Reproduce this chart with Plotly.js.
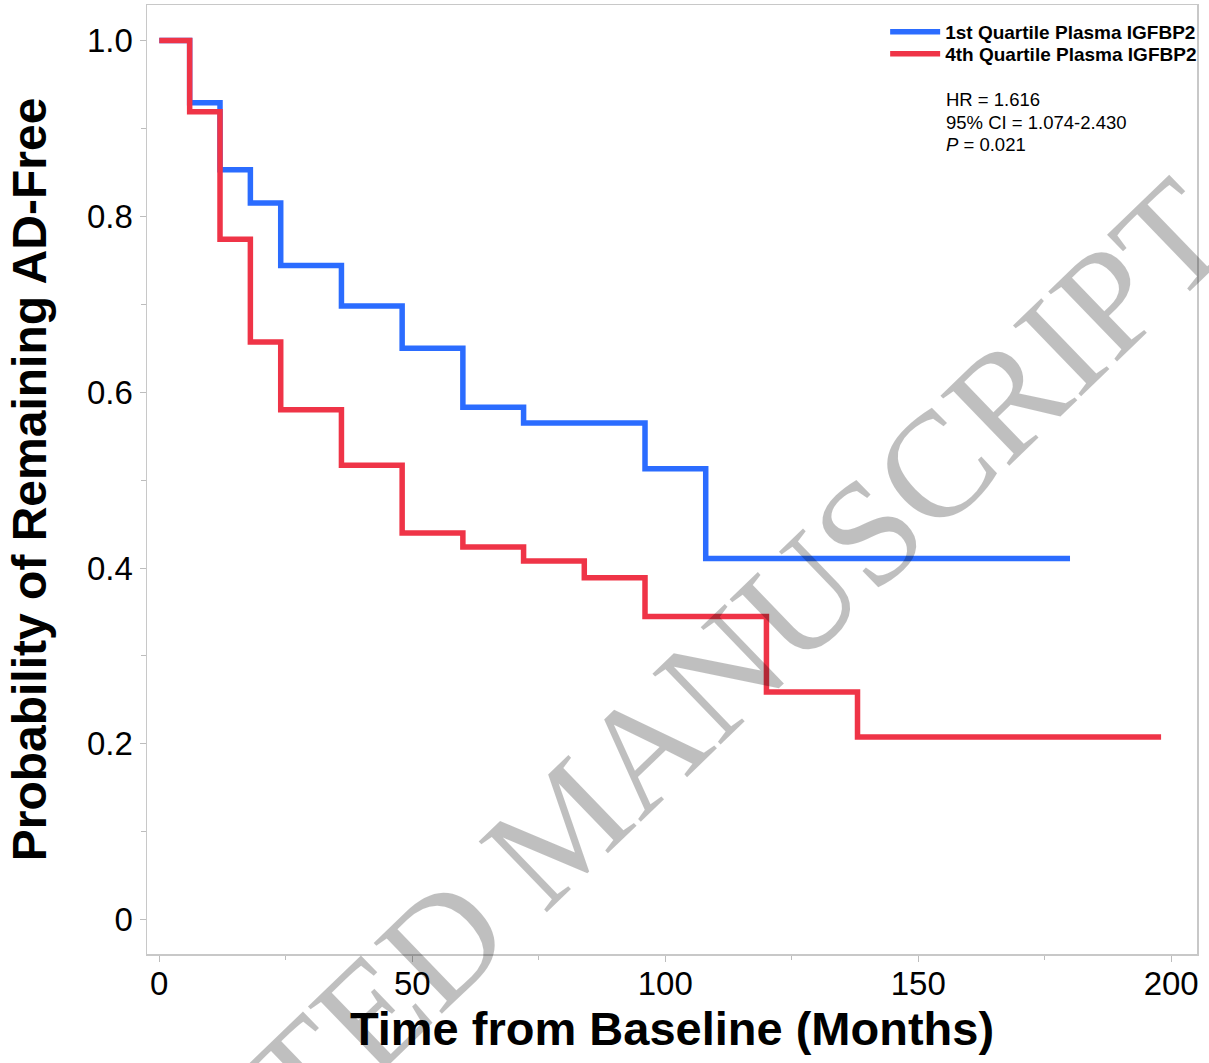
<!DOCTYPE html>
<html>
<head>
<meta charset="utf-8">
<script src="https://cdn.plot.ly/plotly-3.0.1.min.js"></script>
<style>html,body{margin:0;padding:0;background:#fff;}#chart{width:1209px;height:1063px;}</style>
</head>
<body>
<div id="chart"></div>
<script>
// Kaplan-Meier step data (months, survival probability)
var q1Time = [0, 6, 12, 18, 24, 36, 48, 60, 72, 96, 108, 180];
var q1Surv = [1.0, 0.929, 0.853, 0.815, 0.744, 0.698, 0.650, 0.583, 0.565, 0.513, 0.411, 0.411];
var q4Time = [0, 6, 12, 18, 24, 36, 48, 60, 72, 84, 96, 120, 138, 198];
var q4Surv = [1.0, 0.919, 0.774, 0.657, 0.580, 0.517, 0.440, 0.424, 0.408, 0.389, 0.345, 0.259, 0.208, 0.208];
var seriesNames = ["1st Quartile Plasma IGFBP2", "4th Quartile Plasma IGFBP2"];
var yTickVals = [0, 0.2, 0.4, 0.6, 0.8, 1.0];
var yTickText = ["0", "0.2", "0.4", "0.6", "0.8", "1.0"];
var xTickVals = [0, 50, 100, 150, 200];
var statsLines = ["HR = 1.616", "95% CI = 1.074-2.430", "<i>P</i> = 0.021"];
var watermark = "ACCEPTED MANUSCRIPT";

var traces = [
  {x: q1Time, y: q1Surv, name: seriesNames[0], type: "scatter", mode: "lines", legend: "legend",
   line: {shape: "hv", color: "#2b6cff", width: 5.5}},
  {x: q4Time, y: q4Surv, name: seriesNames[1], type: "scatter", mode: "lines", legend: "legend2",
   line: {shape: "hv", color: "#ef3447", width: 5.5}}
];

var fontFam = "Liberation Sans, Arial, sans-serif";
var axisCommon = {
  showline: true, mirror: true, linecolor: "#c8c8c8", linewidth: 1.5,
  ticks: "outside", ticklen: 6, tickcolor: "#bdbdbd", tickwidth: 1,
  showgrid: false, zeroline: false,
  tickfont: {family: fontFam, size: 33, color: "#000"}
};

function legendAt(yPaper) {
  return {x: 0.703, xanchor: "left", y: yPaper, yanchor: "top",
          bgcolor: "rgba(0,0,0,0)", borderwidth: 0, itemwidth: 50,
          font: {family: fontFam, size: 19, color: "#000", weight: "bold"}};
}

var annotations = statsLines.map(function (t, i) {
  return {xref: "paper", yref: "paper", x: 0.7595, y: 0.8999 - i * 0.02371,
          xanchor: "left", yanchor: "middle", align: "left", showarrow: false, text: t,
          font: {family: fontFam, size: 18.5, color: "#000"}};
});
annotations.push({xref: "paper", yref: "paper", x: 0.397, y: 0.136, xanchor: "center", yanchor: "middle",
  showarrow: false, text: watermark, textangle: -44,
  font: {family: "Liberation Serif, Times New Roman, serif", size: 150, color: "rgba(0,0,0,0.25)"}});

var layout = {
  width: 1209, height: 1063,
  margin: {l: 147, r: 12, t: 5, b: 109},
  paper_bgcolor: "#fff", plot_bgcolor: "#fff",
  showlegend: true,
  legend: legendAt(0.9916),
  legend2: legendAt(0.9684),
  xaxis: Object.assign({}, axisCommon, {
    range: [-2.43, 205.1], tickvals: xTickVals, ticklabelstandoff: -6,
    minor: {dtick: 25, ticks: "outside", ticklen: 4, tickcolor: "#bdbdbd"},
    title: {text: "<b>Time from Baseline (Months)</b>", standoff: 6,
            font: {family: fontFam, size: 47, color: "#000"}}
  }),
  yaxis: Object.assign({}, axisCommon, {
    range: [-0.0389, 1.0403], tickvals: yTickVals, ticktext: yTickText,
    minor: {dtick: 0.1, ticks: "outside", ticklen: 5, tickcolor: "#bdbdbd"},
    title: {text: "<b>Probability of Remaining AD-Free</b>", standoff: 25,
            font: {family: fontFam, size: 48, color: "#000"}}
  }),
  annotations: annotations
};

Plotly.newPlot("chart", traces, layout, {displayModeBar: false, staticPlot: true});
</script>
</body>
</html>
